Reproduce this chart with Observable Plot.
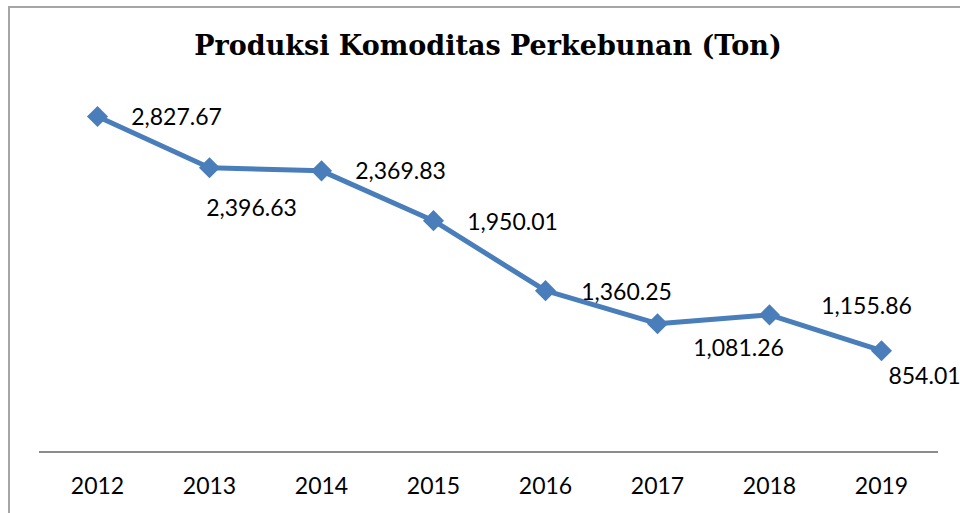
<!DOCTYPE html>
<html>
<head>
<meta charset="utf-8">
<script src="https://cdn.jsdelivr.net/npm/d3@7"></script>
<script src="https://cdn.jsdelivr.net/npm/@observablehq/plot@0.6"></script>
<style>
  html, body { margin: 0; padding: 0; background: #fff; }
  #wrap { position: relative; width: 960px; height: 513px; overflow: hidden; }
  #border { position: absolute; left: 8px; top: 6px; width: 960px; height: 520px;
            border-left: 2px solid #a6a6a6; border-top: 2px solid #a6a6a6; box-sizing: border-box; }
  #chart { position: absolute; left: 0; top: 0; }
</style>
</head>
<body>
<div id="wrap"><div id="border"></div><div id="chart"></div></div>
<script>
const title = "Produksi Komoditas Perkebunan (Ton)";
const years = ["2012", "2013", "2014", "2015", "2016", "2017", "2018", "2019"];
const values = [2827.67, 2396.63, 2369.83, 1950.01, 1360.25, 1081.26, 1155.86, 854.01];
const valueLabels = ["2,827.67", "2,396.63", "2,369.83", "1,950.01", "1,360.25", "1,081.26", "1,155.86", "854.01"];

// label placement offsets (px) relative to each point, as positioned in the reference
const labelOffsets = [[79, 1], [42, 41], [79, 1], [79, 2], [81, 2], [81, 25], [97, -8], [43, 26]];

const data = years.map((y, i) => ({year: y, value: values[i], label: valueLabels[i]}));
const blue = "#4A7EBB";
const labelFont = "Lato, 'Open Sans', sans-serif";

const plot = Plot.plot({
  width: 960,
  height: 513,
  marginLeft: 39,
  marginRight: 22,
  marginTop: 95.6,
  marginBottom: 61.5,
  x: {type: "point", domain: years, padding: 0.5, label: null},
  y: {domain: [0, 3000], axis: null},
  style: {fontFamily: labelFont, background: "transparent", overflow: "visible"},
  marks: [
    Plot.ruleY([0], {stroke: "#8c8c8c", strokeWidth: 2}),
    Plot.axisX({tickSize: 0, tickPadding: 26, fontSize: 23, fill: "#000", label: null}),
    Plot.line(data, {x: "year", y: "value", stroke: blue, strokeWidth: 5}),
    Plot.dot(data, {x: "year", y: "value", symbol: "diamond2", r: 9.5, fill: blue, stroke: "none"}),
    ...data.map((d, i) => Plot.text([d], {
      x: "year", y: "value", text: "label",
      dx: labelOffsets[i][0], dy: labelOffsets[i][1],
      fontSize: 23, fill: "#000", textAnchor: "middle", lineAnchor: "middle"
    })),
    Plot.text([title], {
      frameAnchor: "top", dy: -50, dx: -1, lineAnchor: "middle", textAnchor: "middle",
      fontFamily: "'DejaVu Serif', serif", fontWeight: "bold", fontSize: 27, fill: "#000"
    })
  ]
});
document.getElementById("chart").appendChild(plot);
</script>
</body>
</html>
